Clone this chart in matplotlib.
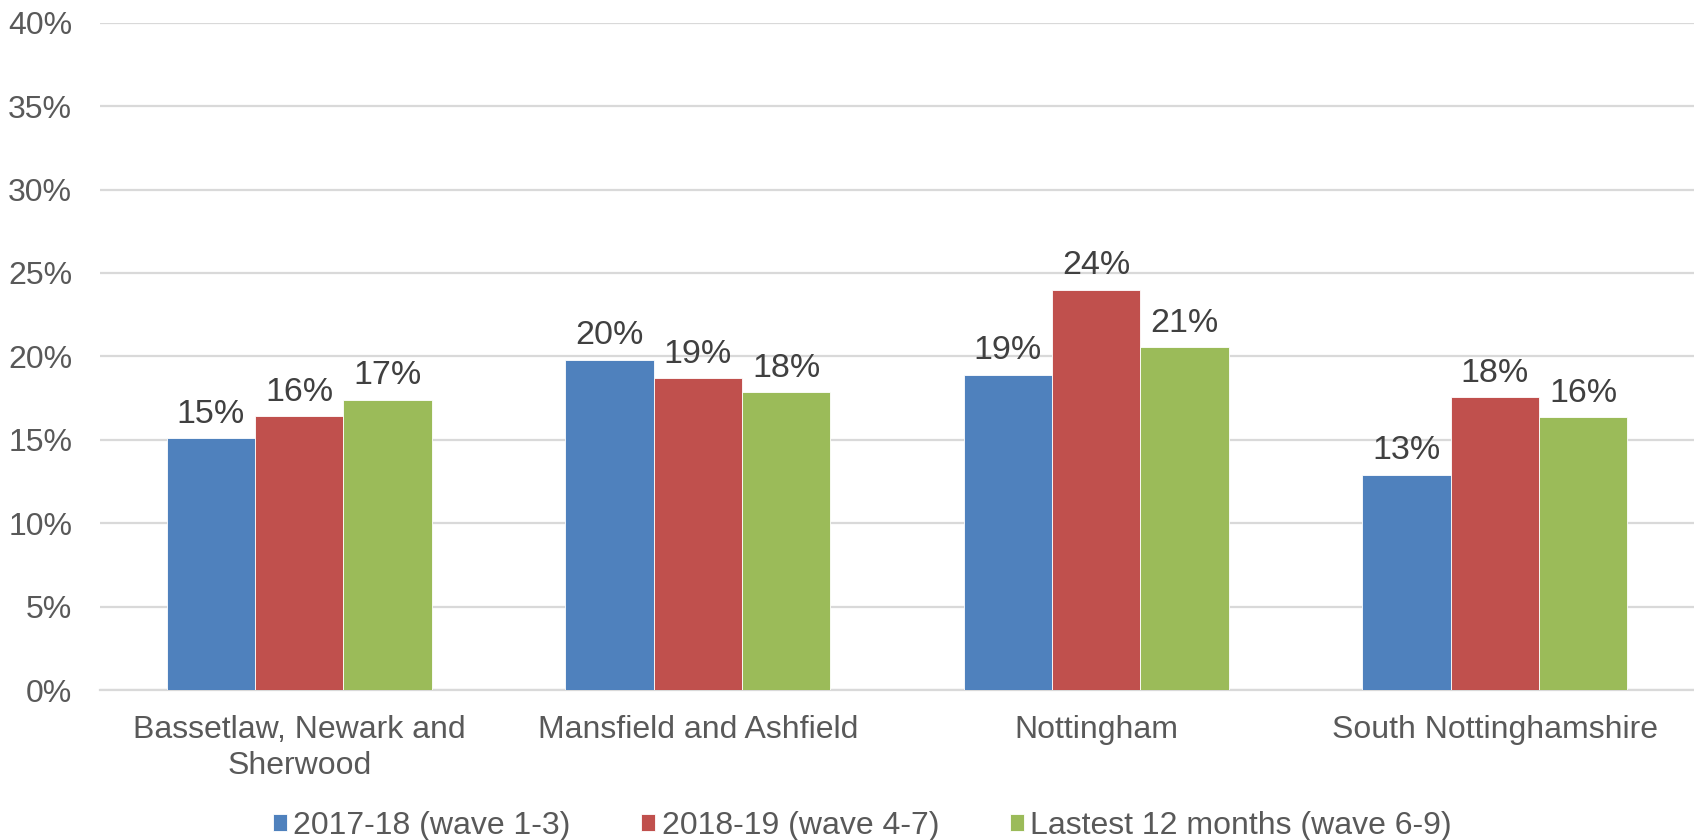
import matplotlib
matplotlib.use("Agg")
import matplotlib.pyplot as plt
import numpy as np
from matplotlib.ticker import FuncFormatter

categories = ["Bassetlaw, Newark and\nSherwood", "Mansfield and Ashfield", "Nottingham", "South Nottinghamshire"]
series_names = ["2017-18 (wave 1-3)", "2018-19 (wave 4-7)", "Lastest 12 months (wave 6-9)"]
wave_1_3 = [15.1, 19.8, 18.9, 12.9]
wave_4_7 = [16.4, 18.7, 24.0, 17.55]
wave_6_9 = [17.4, 17.85, 20.55, 16.35]
colors = ["#4F81BD", "#C0504D", "#9BBB59"]
yticks = [0, 5, 10, 15, 20, 25, 30, 35, 40]

plt.rcParams['font.family'] = ['Liberation Sans', 'DejaVu Sans']

fig = plt.figure(figsize=(16.94, 8.4), dpi=100)
ax = fig.add_axes([100/1694, 1-690/840, 1-100/1694, (690-22.7)/840])

x = np.arange(len(categories))
w = 0.2217
series = [wave_1_3, wave_4_7, wave_6_9]
for i, (vals, c, name) in enumerate(zip(series, colors, series_names)):
    pos = x + (i - 1) * w
    bars = ax.bar(pos, vals, width=w, color=c, label=name, zorder=3,
                  edgecolor="white", linewidth=0.6)
    for b, v in zip(bars, vals):
        ax.annotate(f"{int(np.floor(v + 0.5))}%", (b.get_x() + b.get_width()/2, v),
                    xytext=(0, 6), textcoords="offset points",
                    ha="center", va="bottom", fontsize=24.5, color="#404040")

ax.set_xlim(-0.5, len(categories) - 0.5)
ax.set_ylim(0, 40)
ax.set_yticks(yticks)
ax.yaxis.set_major_formatter(FuncFormatter(lambda v, p: f"{int(v)}%"))
ax.grid(axis="y", color="#d9d9d9", linewidth=1.6, zorder=0)
ax.set_axisbelow(True)
for s in ["top", "right", "left"]:
    ax.spines[s].set_visible(False)
ax.spines["bottom"].set_color("#d9d9d9")
ax.spines["bottom"].set_linewidth(1.6)
ax.tick_params(axis="both", length=0, labelsize=23, labelcolor="#595959")
ax.tick_params(axis="y", pad=20)
ax.tick_params(axis="x", pad=18)
ax.set_xticks(x)
ax.set_xticklabels(categories, linespacing=1.27)

fig.legend(loc="center", bbox_to_anchor=(0.509, 1-826/840), ncol=3, frameon=False,
           fontsize=23, labelcolor="#595959", handlelength=0.45, handleheight=0.45,
           handletextpad=0.2, columnspacing=2.2, borderpad=0.1)

fig.savefig("out.png", dpi=100)
